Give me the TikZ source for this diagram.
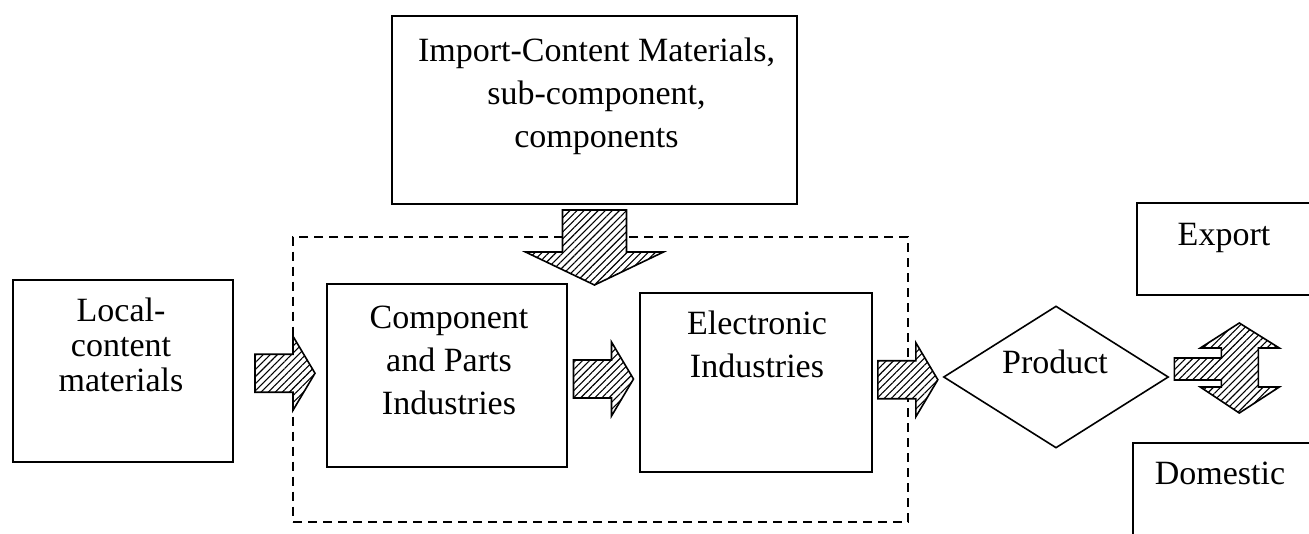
\documentclass[tikz,border=0pt]{standalone}
\usepackage{fontspec}
\setmainfont{Liberation Serif}
\usetikzlibrary{shapes.geometric,patterns.meta,calc}

\begin{document}
\begin{tikzpicture}[
  x=1pt, y=-1pt,
  every node/.style={font=\fontsize{34}{43}\selectfont},
  box/.style={draw,line width=2pt,inner sep=0pt},
  dashbox/.style={draw,line width=2pt,dash pattern=on 9pt off 6pt,inner sep=0pt},
  txt/.style={align=center,inner sep=0pt},
  hatch/.style={draw,line width=1.6pt,preaction={fill=white},
    pattern={Lines[angle=45,distance=5pt,line width=1.1pt]}},
  rblock/.pic={\draw[hatch] (-30,-19) -- (8,-19) -- (8,-37) -- (30,0) -- (8,37) -- (8,19) -- (-30,19) -- cycle;},
  dblock/.pic={\draw[hatch] (-32,0) -- (32,0) -- (32,42) -- (69,42) -- (0,75) -- (-69,42) -- (-32,42) -- cycle;},
  udblock/.pic={\draw[hatch] (5,-19) -- (52,-19) -- (52,-29) -- (31,-29) -- (70,-54) -- (110,-29) -- (89,-29)
    -- (89,10) -- (110,10) -- (70,36) -- (31,10) -- (52,10) -- (52,3) -- (5,3) -- cycle;}
]
  \clip (0,0) rectangle (1309,533);

  % boxes
  \node[dashbox,minimum width=615pt,minimum height=285pt] (ind) at (600.5,379) {};
  \node[box,minimum width=405pt,minimum height=188pt] (imp) at (594.5,110) {};
  \node[box,minimum width=220pt,minimum height=182pt] (loc) at (123,371) {};
  \node[box,minimum width=240pt,minimum height=183pt] (comp) at (447,375.5) {};
  \node[box,minimum width=232pt,minimum height=179pt] (elec) at (756,382.5) {};
  \node[draw,diamond,line width=1.6pt,inner sep=0pt,minimum width=225pt,minimum height=142pt] (prod) at (1056,377) {};
  \node[box,minimum width=204pt,minimum height=92pt] (exp) at (1239,249) {};
  \node[box,minimum width=178pt,minimum height=136pt] (dom) at (1222,511) {};

  % texts
  \node[txt,anchor=north] (imptxt) at ($(imp.north)+(2,23)$) {Import-Content Materials,\\sub-component,\\components};
  \node[txt,anchor=north,font=\fontsize{34}{35}\selectfont] (loctxt) at ($(loc.north)+(-2,19)$) {Local-\\content\\materials};
  \node[txt,anchor=north] (comptxt) at ($(comp.north)+(2,23)$) {Component\\and Parts\\Industries};
  \node[txt,anchor=north] (electxt) at ($(elec.north)+(1,19)$) {Electronic\\Industries};
  \node[txt,anchor=base] (prodtxt) at ($(prod.center)+(-1,-4)$) {Product};
  \node[txt,anchor=base] (exptxt) at ($(exp.west)+(88,-4)$) {Export};
  \node[txt,anchor=base] (domtxt) at ($(dom.north west)+(88,42)$) {Domestic};

  % block arrows
  \pic at ($(loc.east)!0.5!(comp.west)+(5,0)$) {rblock};
  \pic at ($(comp.east)!0.5!(elec.west)$) {rblock};
  \pic at ($(elec.east)!0.5!(prod.west)$) {rblock};
  \pic at ($(imp.south)+(0,5)$) {dblock};
  \pic at (prod.east) {udblock};
\end{tikzpicture}
\end{document}
